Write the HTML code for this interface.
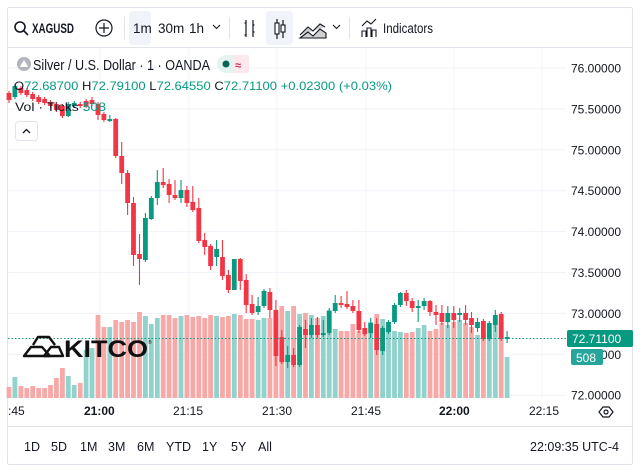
<!DOCTYPE html>
<html><head><meta charset="utf-8"><style>
html,body{margin:0;padding:0;background:#fff;}
svg{display:block;font-family:"Liberation Sans","DejaVu Sans",sans-serif;}
</style></head><body>
<svg width="640" height="471" viewBox="0 0 640 471" xmlns="http://www.w3.org/2000/svg">
<rect x="7.5" y="7.5" width="625" height="457" fill="#fff" stroke="#e0e3eb" rx="2"/>
<line x1="8" y1="47.5" x2="632" y2="47.5" stroke="#e0e3eb"/>
<line x1="8" y1="426.5" x2="632" y2="426.5" stroke="#e0e3eb"/>
<g stroke="#f0f3fa" stroke-width="1">
<path d="M8 68H566M8 108.9H566M8 149.8H566M8 190.7H566M8 231.6H566M8 272.5H566M8 313.4H566M8 354.3H566M8 395.2H566"/>
<path d="M100 48V398M189 48V398M277 48V398M366 48V398M454 48V398M542 48V398"/>
</g>
<!-- volumes -->
<path fill="#f7a9a7" d="M6.6,387h4.8V398h-4.8zM18.5,386h4.8V398h-4.8zM24.4,388h4.8V398h-4.8zM30.3,386h4.8V398h-4.8zM36.3,388h4.8V398h-4.8zM42.2,388h4.8V398h-4.8zM48.1,385h4.8V398h-4.8zM54,378h4.8V398h-4.8zM60,368h4.8V398h-4.8zM77.8,383h4.8V398h-4.8zM95.6,315h4.8V398h-4.8zM101.5,327h4.8V398h-4.8zM113.3,320h4.8V398h-4.8zM119.3,322h4.8V398h-4.8zM125.2,320h4.8V398h-4.8zM131.1,322h4.8V398h-4.8zM137.1,312h4.8V398h-4.8zM160.8,315h4.8V398h-4.8zM166.7,315h4.8V398h-4.8zM172.6,318h4.8V398h-4.8zM184.5,315h4.8V398h-4.8zM190.4,317h4.8V398h-4.8zM196.4,316h4.8V398h-4.8zM202.3,318h4.8V398h-4.8zM208.2,315h4.8V398h-4.8zM220.1,317h4.8V398h-4.8zM226,316h4.8V398h-4.8zM237.9,315h4.8V398h-4.8zM243.8,319h4.8V398h-4.8zM249.7,319h4.8V398h-4.8zM267.5,318h4.8V398h-4.8zM273.5,315h4.8V398h-4.8zM279.4,306h4.8V398h-4.8zM291.2,306h4.8V398h-4.8zM303.1,313h4.8V398h-4.8zM315,318h4.8V398h-4.8zM338.7,331h4.8V398h-4.8zM344.6,331h4.8V398h-4.8zM350.5,324h4.8V398h-4.8zM356.5,331h4.8V398h-4.8zM362.4,330h4.8V398h-4.8zM374.3,314h4.8V398h-4.8zM403.9,333h4.8V398h-4.8zM409.8,332h4.8V398h-4.8zM427.6,331h4.8V398h-4.8zM433.6,329h4.8V398h-4.8zM439.5,323h4.8V398h-4.8zM451.4,322h4.8V398h-4.8zM463.2,323h4.8V398h-4.8zM469.1,327h4.8V398h-4.8zM481,333h4.8V398h-4.8zM498.8,322h4.8V398h-4.8z"/>
<path fill="#92d2cc" d="M12.5,377h4.8V398h-4.8zM65.9,376h4.8V398h-4.8zM71.8,385h4.8V398h-4.8zM83.7,350h4.8V398h-4.8zM89.6,348h4.8V398h-4.8zM107.4,327h4.8V398h-4.8zM143,316h4.8V398h-4.8zM148.9,324h4.8V398h-4.8zM154.9,318h4.8V398h-4.8zM178.6,316h4.8V398h-4.8zM214.2,316h4.8V398h-4.8zM231.9,314h4.8V398h-4.8zM255.7,320h4.8V398h-4.8zM261.6,318h4.8V398h-4.8zM285.3,311h4.8V398h-4.8zM297.2,314h4.8V398h-4.8zM309,315h4.8V398h-4.8zM320.9,316h4.8V398h-4.8zM326.8,310h4.8V398h-4.8zM332.8,329h4.8V398h-4.8zM368.3,322h4.8V398h-4.8zM380.2,319h4.8V398h-4.8zM386.1,330h4.8V398h-4.8zM392.1,331h4.8V398h-4.8zM398,332h4.8V398h-4.8zM415.8,328h4.8V398h-4.8zM421.7,325h4.8V398h-4.8zM445.4,325h4.8V398h-4.8zM457.3,320h4.8V398h-4.8zM475.1,335h4.8V398h-4.8zM486.9,330h4.8V398h-4.8zM492.9,318h4.8V398h-4.8zM504.7,357h4.8V398h-4.8z"/>
<!-- candles -->
<path stroke="#f23645" stroke-width="1.1" fill="none" d="M9,91V103M20.9,86V95M26.8,88V97M32.7,92V101M38.7,95V104M44.6,97V105M50.5,100V108M56.4,102V112M62.4,104V118M80.2,102V108M86.1,99V108M92,97V106M98,102V120M103.9,112V122M115.7,118V158M121.7,142V184M127.6,170V215M133.5,197V266M139.5,234V285M163.2,168V188M169.1,179V203M175,180V200M186.9,186V207M192.8,186V212M198.8,198V243M204.7,233V255M210.6,244V270M222.5,240V280M228.4,270V293M240.3,258V290M246.2,274V313M252.1,295V315M269.9,288V318M275.9,300V366M281.8,330V364M293.6,348V367M305.5,320V348M317.4,317V338M341.1,296V308M347,291V309M352.9,300V313M358.9,300V333M364.8,322V336M376.7,318V355M406.3,290V306M412.2,298V312M430,300V316M436,305V325M441.9,305V325M453.8,306V328M465.6,305V325M471.5,312V333M483.4,319V341M501.2,312V341"/>
<path fill="#f23645" d="M6.6,93h4.8V100h-4.8zM18.5,88h4.8V93h-4.8zM24.4,90h4.8V95h-4.8zM30.3,94h4.8V99h-4.8zM36.3,97h4.8V102h-4.8zM42.2,99h4.8V103h-4.8zM48.1,102h4.8V106h-4.8zM54,104h4.8V110h-4.8zM60,106h4.8V116h-4.8zM77.8,104h4.8V106h-4.8zM83.7,101h4.8V106h-4.8zM89.6,100h4.8V104h-4.8zM95.6,104h4.8V115h-4.8zM101.5,114h4.8V120h-4.8zM113.3,119h4.8V156h-4.8zM119.3,156h4.8V173h-4.8zM125.2,173h4.8V203h-4.8zM131.1,203h4.8V255h-4.8zM137.1,254h4.8V259h-4.8zM160.8,182h4.8V185h-4.8zM166.7,184h4.8V195h-4.8zM172.6,195h4.8V198h-4.8zM184.5,190h4.8V203h-4.8zM190.4,202h4.8V210h-4.8zM196.4,208h4.8V241h-4.8zM202.3,240h4.8V247h-4.8zM208.2,246h4.8V266h-4.8zM220.1,257h4.8V276h-4.8zM226,275h4.8V290h-4.8zM237.9,259h4.8V281h-4.8zM243.8,280h4.8V305h-4.8zM249.7,304h4.8V313h-4.8zM267.5,292h4.8V310h-4.8zM273.5,310h4.8V356h-4.8zM279.4,337h4.8V362h-4.8zM291.2,355h4.8V365h-4.8zM303.1,329h4.8V335h-4.8zM315,325h4.8V335h-4.8zM338.7,303h4.8V305h-4.8zM344.6,304h4.8V307h-4.8zM350.5,306h4.8V311h-4.8zM356.5,311h4.8V330h-4.8zM362.4,328h4.8V334h-4.8zM374.3,324h4.8V350h-4.8zM403.9,293h4.8V301h-4.8zM409.8,301h4.8V308h-4.8zM427.6,301h4.8V312h-4.8zM433.6,312h4.8V315h-4.8zM439.5,313h4.8V322h-4.8zM451.4,313h4.8V320h-4.8zM463.2,313h4.8V320h-4.8zM469.1,318h4.8V325h-4.8zM481,321h4.8V339h-4.8zM498.8,314h4.8V339h-4.8z"/>
<path stroke="#089981" stroke-width="1.1" fill="none" d="M14.9,84V99M68.3,102V117M74.2,101V108M109.8,115V122M145.4,213V262M151.3,196V220M157.3,170V205M181,180V203M216.6,240V266M234.3,259V290M258.1,297V315M264,289V308M287.7,346V368M299.6,325V367M311.4,318V338M323.3,320V337M329.2,308V335M335.2,295V313M370.7,318V338M382.6,326V355M388.5,320V334M394.5,303V324M400.4,292V307M418.2,300V322M424.1,298V310M447.8,306V328M459.7,308V322M477.5,318V332M489.3,321V341M495.3,310V332M507.1,331V343"/>
<path fill="#089981" d="M12.5,86h4.8V97h-4.8zM65.9,104h4.8V116h-4.8zM71.8,103h4.8V106h-4.8zM107.4,119h4.8V121h-4.8zM143,218h4.8V260h-4.8zM148.9,198h4.8V219h-4.8zM154.9,182h4.8V198h-4.8zM178.6,190h4.8V198h-4.8zM214.2,249h4.8V257h-4.8zM231.9,259h4.8V290h-4.8zM255.7,306h4.8V312h-4.8zM261.6,291h4.8V306h-4.8zM285.3,355h4.8V362h-4.8zM297.2,327h4.8V365h-4.8zM309,325h4.8V335h-4.8zM320.9,333h4.8V335h-4.8zM326.8,311h4.8V333h-4.8zM332.8,303h4.8V311h-4.8zM368.3,323h4.8V333h-4.8zM380.2,328h4.8V351h-4.8zM386.1,322h4.8V332h-4.8zM392.1,305h4.8V322h-4.8zM398,293h4.8V305h-4.8zM415.8,306h4.8V308h-4.8zM421.7,301h4.8V306h-4.8zM445.4,313h4.8V322h-4.8zM457.3,313h4.8V315h-4.8zM475.1,322h4.8V328h-4.8zM486.9,323h4.8V339h-4.8zM492.9,315h4.8V325h-4.8zM504.7,337h4.8V339h-4.8z"/>
<line x1="8" y1="338.5" x2="566" y2="338.5" stroke="#089981" stroke-dasharray="1.5,2"/>
<!-- KITCO logo -->
<g fill="none" stroke="#111" stroke-width="2.4" stroke-linejoin="round">
<path d="M24 356 L31 347 L42 347 L50 356 Z"/>
<path d="M33 345 L38 337 L49 337 L55 345"/>
<path d="M44 356 L51 347 L59 347 L63 356 Z"/>
</g>
<text x="64" y="357" font-size="24" font-weight="bold" fill="#111" textLength="84" lengthAdjust="spacingAndGlyphs">KITCO</text>
<text x="148" y="344" font-size="5" fill="#111">®</text>
<!-- toolbar -->
<g font-size="13.5" fill="#131722">
<circle cx="20" cy="27" r="5" fill="none" stroke="#131722" stroke-width="1.6"/><line x1="24" y1="31" x2="28" y2="35" stroke="#131722" stroke-width="1.6"/>
<text x="32" y="33" font-weight="bold" textLength="42" lengthAdjust="spacingAndGlyphs">XAGUSD</text>
<circle cx="104" cy="28" r="8" fill="none" stroke="#131722" stroke-width="1.2"/><path d="M104 23v10M99 28h10" stroke="#131722" stroke-width="1.2"/>
<line x1="124.5" y1="17" x2="124.5" y2="39" stroke="#e0e3eb"/>
<rect x="129" y="11" width="22" height="34" rx="4" fill="#f0f3fa"/>
<text x="133" y="33">1m</text>
<text x="158" y="33">30m</text>
<text x="189" y="33">1h</text>
<path d="M213 25l3.5 3.5 3.5-3.5" fill="none" stroke="#131722" stroke-width="1.1"/>
<line x1="229.5" y1="17" x2="229.5" y2="39" stroke="#e0e3eb"/>
<path d="M246 20v17M246 23h-1.5M246 35h-1.5M253 20v17M253 25h1.5M253 32h1.5" stroke="#131722" stroke-width="1.2" fill="none"/>
<rect x="266" y="11" width="27" height="34" rx="4" fill="#f0f3fa"/>
<path d="M277 19v20M283 20v18" stroke="#131722" stroke-width="1.2"/><rect x="275" y="23" width="4" height="11" fill="#fff" stroke="#131722" stroke-width="1.1"/><rect x="281" y="25" width="4" height="7" fill="#fff" stroke="#131722" stroke-width="1.1"/>
<path d="M300 35l8-8 5 4 7-7 5 3M300 38l8-6 5 4 7-7 6 4v5h-26z" fill="#777" fill-opacity="0.35" stroke="#131722" stroke-width="1.1"/>
<path d="M333 25l3.5 3.5 3.5-3.5" fill="none" stroke="#131722" stroke-width="1.1"/>
<line x1="349.5" y1="17" x2="349.5" y2="39" stroke="#e0e3eb"/>
<path d="M362 26l5-5 4 3 5-5M362 37v-6h4v6M367 37v-9h4v9M372 37v-7h4v7" fill="none" stroke="#131722" stroke-width="1.1"/>
<text x="383" y="33" textLength="50" lengthAdjust="spacingAndGlyphs">Indicators</text>
</g>
<!-- legend -->
<circle cx="24" cy="64" r="7" fill="#b2b5be"/><path d="M20 67h8l-2-4h-4z M22 63l2-3 2 3" fill="#fff"/>
<text x="33" y="70" font-size="14.5" fill="#131722" textLength="177" lengthAdjust="spacingAndGlyphs">Silver / U.S. Dollar · 1 · OANDA</text>
<rect x="217" y="55" width="32" height="18" rx="9" fill="#e6f4f1"/>
<rect x="233" y="55" width="16" height="18" fill="#fde8ee"/>
<circle cx="226" cy="64" r="3.5" fill="#056656"/>
<text x="235" y="69" font-size="11" fill="#cc2f5a" font-weight="bold">≈</text>
<g font-size="12" fill="#089981">
<text x="14" y="90" textLength="378" lengthAdjust="spacingAndGlyphs"><tspan fill="#131722">O</tspan>72.68700 <tspan fill="#131722">H</tspan>72.79100 <tspan fill="#131722">L</tspan>72.64550 <tspan fill="#131722">C</tspan>72.71100 +0.02300 (+0.03%)</text>
<text x="15" y="111" textLength="91" lengthAdjust="spacingAndGlyphs"><tspan fill="#131722">Vol · Ticks </tspan>508</text>
</g>
<rect x="15.5" y="121.5" width="22" height="19" rx="3" fill="#fff" stroke="#e0e3eb"/>
<path d="M23 133l3.5-3.5 3.5 3.5" fill="none" stroke="#131722" stroke-width="1.3"/>
<!-- price axis -->
<g font-size="12" fill="#131722">
<text x="571" y="72.5">76.00000</text>
<text x="571" y="113.4">75.50000</text>
<text x="571" y="154.3">75.00000</text>
<text x="571" y="195.2">74.50000</text>
<text x="571" y="236.1">74.00000</text>
<text x="571" y="277">73.50000</text>
<text x="571" y="317.9">73.00000</text>
<text x="571" y="358.8">72.50000</text>
<text x="571" y="399.7">72.00000</text>
</g>
<rect x="567" y="330" width="66" height="17" rx="2" fill="#089981"/>
<text x="572" y="343" font-size="12" fill="#fff">72.71100</text>
<rect x="571" y="349" width="32" height="16" rx="2" fill="#26a69a"/>
<text x="576" y="362" font-size="12" fill="#fff">508</text>
<!-- time axis -->
<g font-size="12" fill="#131722">
<text x="8" y="415">:45</text>
<text x="84" y="415" font-weight="bold">21:00</text>
<text x="173" y="415">21:15</text>
<text x="262" y="415">21:30</text>
<text x="351" y="415">21:45</text>
<text x="439" y="415" font-weight="bold">22:00</text>
<text x="529" y="415">22:15</text>
</g>
<path d="M599 412l4-5h6l4 5-4 5h-6z" fill="none" stroke="#131722" stroke-width="1.2"/><circle cx="606" cy="412" r="2" fill="none" stroke="#131722" stroke-width="1.2"/>
<g font-size="12.5" fill="#131722">
<text x="24" y="451">1D</text><text x="51" y="451">5D</text><text x="80" y="451">1M</text><text x="108" y="451">3M</text><text x="137" y="451">6M</text><text x="166" y="451">YTD</text><text x="202" y="451">1Y</text><text x="231" y="451">5Y</text><text x="258" y="451">All</text>
<text x="530" y="451">22:09:35 UTC-4</text>
</g>
</svg>
</body></html>
